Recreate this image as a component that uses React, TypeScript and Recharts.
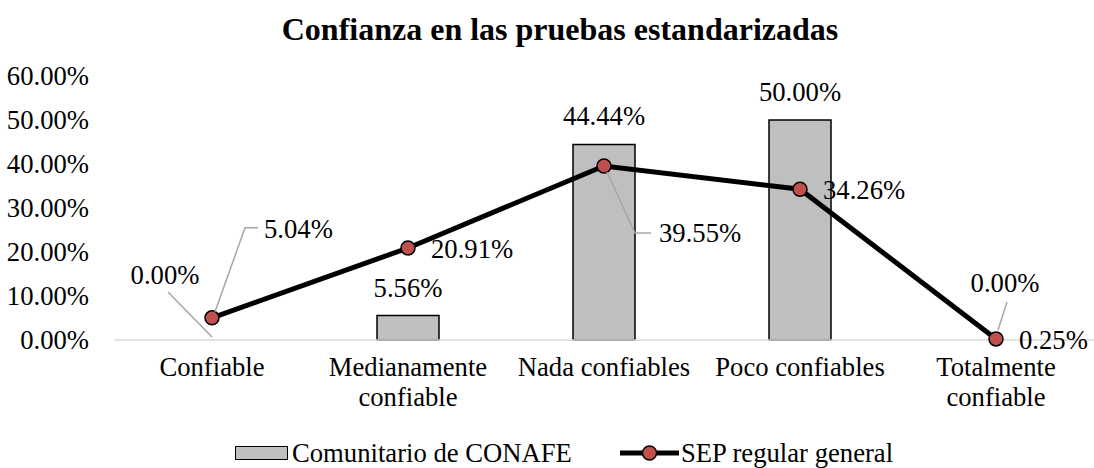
import React from 'react';
import {
  ComposedChart,
  Bar,
  Line,
  XAxis,
  YAxis,
  Legend,
  LabelList,
} from 'recharts';

const categories = [
  'Confiable',
  'Medianamente confiable',
  'Nada confiables',
  'Poco confiables',
  'Totalmente confiable',
];
const conafe = [0, 5.56, 44.44, 50.0, 0];
const sep = [5.04, 20.91, 39.55, 34.26, 0.25];
const yTicks = [0, 10, 20, 30, 40, 50, 60];

const FONT = '"Liberation Serif", "Times New Roman", serif';
const FS = 26.67;

const data = categories.map((name, i) => ({
  name,
  conafe: conafe[i],
  sep: sep[i],
}));

const pct = (v: number) => `${v.toFixed(2)}%`;

// wrap long category names on two lines
function CategoryTick(props: any) {
  const { x, y, payload } = props;
  const text: string = payload.value;
  let lines = [text];
  if (text.length > 16) {
    const k = text.lastIndexOf(' ');
    lines = [text.slice(0, k), text.slice(k + 1)];
  }
  return (
    <g>
      {lines.map((l, i) => (
        <text
          key={i}
          x={x}
          y={y + 28}
          dy={i * 30}
          textAnchor="middle"
          fontFamily={FONT}
          fontSize={FS}
          fill="#000"
        >
          {l}
        </text>
      ))}
    </g>
  );
}

function PercentTick(props: any) {
  const { x, y, payload } = props;
  return (
    <text
      x={x - 17}
      y={y + 9}
      textAnchor="end"
      fontFamily={FONT}
      fontSize={FS}
      fill="#000"
    >
      {pct(payload.value)}
    </text>
  );
}

// labels for the CONAFE series, drawn at the bar's value position
function BarValueLabel(props: any) {
  const { x, y, value, index } = props;
  if (value === 0 && index === 0) {
    return (
      <g>
        <line x1={x - 44} y1={y - 48} x2={x} y2={y - 3} stroke="#a6a6a6" strokeWidth={1.5} />
        <text x={x - 47} y={y - 56} textAnchor="middle" fontFamily={FONT} fontSize={FS} fill="#000">
          {pct(value)}
        </text>
      </g>
    );
  }
  if (value === 0) {
    return (
      <g>
        <line x1={x + 11} y1={y - 38} x2={x + 2} y2={y - 10} stroke="#a6a6a6" strokeWidth={1.5} />
        <text x={x + 9} y={y - 48} textAnchor="middle" fontFamily={FONT} fontSize={FS} fill="#000">
          {pct(value)}
        </text>
      </g>
    );
  }
  return (
    <text x={x} y={y - 19} textAnchor="middle" fontFamily={FONT} fontSize={FS} fill="#000">
      {pct(value)}
    </text>
  );
}

function LineValueLabel(props: any) {
  const { x, y, value, index } = props;
  const txt = (tx: number, ty: number) => (
    <text x={tx} y={ty + 9} fontFamily={FONT} fontSize={FS} fill="#000">
      {pct(value)}
    </text>
  );
  if (index === 0) {
    return (
      <g>
        <polyline
          points={`${x + 3},${y - 6} ${x + 33},${y - 90} ${x + 46},${y - 90}`}
          fill="none"
          stroke="#a6a6a6"
          strokeWidth={1.5}
        />
        {txt(x + 52, y - 89)}
      </g>
    );
  }
  if (index === 2) {
    return (
      <g>
        <polyline
          points={`${x + 3},${y + 6} ${x + 31},${y + 67} ${x + 47},${y + 67}`}
          fill="none"
          stroke="#a6a6a6"
          strokeWidth={1.5}
        />
        {txt(x + 55, y + 67)}
      </g>
    );
  }
  return txt(x + 23, y + 1);
}

function LegendContent() {
  return (
    <div
      style={{
        display: 'flex',
        alignItems: 'center',
        position: 'relative',
        top: 21,
        height: 30,
        marginTop: -3,
        fontFamily: FONT,
        fontSize: FS,
        lineHeight: '30px',
        color: '#000',
        paddingLeft: 235,
        whiteSpace: 'nowrap',
      }}
    >
      <span
        style={{
          display: 'inline-block',
          width: 51,
          height: 12,
          background: '#bfbfbf',
          border: '1px solid #000',
          marginRight: 4,
        }}
      />
      <span style={{ marginRight: 48 }}>Comunitario de CONAFE</span>
      <svg width={59} height={16} style={{ marginRight: 2, display: 'block' }}>
        <line x1={0} y1={8} x2={59} y2={8} stroke="#000" strokeWidth={5} />
        <circle cx={29.5} cy={8} r={7} fill="#c0504d" stroke="#000" strokeWidth={1.5} />
      </svg>
      <span>SEP regular general</span>
    </div>
  );
}

export default function App() {
  return (
    <div style={{ position: 'absolute', left: 0, top: 0, background: '#fff' }}>
      <ComposedChart
        width={1094}
        height={468}
        data={data}
        margin={{ top: 76, right: 0, left: 0, bottom: 0 }}
      >
        <text
          x={560}
          y={40}
          textAnchor="middle"
          fontFamily={FONT}
          fontSize={32}
          fontWeight="bold"
          fill="#000"
        >
          Confianza en las pruebas estandarizadas
        </text>
        <XAxis
          dataKey="name"
          height={80}
          tickLine={false}
          axisLine={{ stroke: '#d9d9d9', strokeWidth: 1.5 }}
          tick={<CategoryTick />}
          interval={0}
        />
        <YAxis
          width={114}
          domain={[0, 60]}
          ticks={yTicks}
          axisLine={false}
          tickLine={false}
          tick={<PercentTick />}
          interval={0}
        />
        <Legend verticalAlign="bottom" height={48} content={<LegendContent />} />
        <Bar
          dataKey="conafe"
          name="Comunitario de CONAFE"
          fill="#bfbfbf"
          stroke="#000"
          strokeWidth={1.5}
          barSize={62}
          isAnimationActive={false}
        />
        {/* invisible carrier for the CONAFE value labels (zero bars included) */}
        <Line
          dataKey="conafe"
          stroke="none"
          dot={false}
          activeDot={false}
          legendType="none"
          isAnimationActive={false}
        >
          <LabelList dataKey="conafe" content={<BarValueLabel />} />
        </Line>
        <Line
          dataKey="sep"
          name="SEP regular general"
          stroke="#000"
          strokeWidth={5}
          dot={{ r: 7, fill: '#c0504d', stroke: '#000', strokeWidth: 1.5 }}
          isAnimationActive={false}
        >
          <LabelList dataKey="sep" content={<LineValueLabel />} />
        </Line>
      </ComposedChart>
    </div>
  );
}
